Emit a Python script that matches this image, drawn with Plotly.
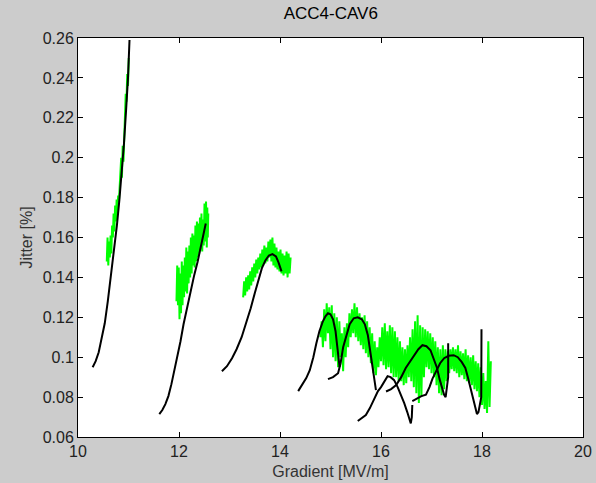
import plotly.graph_objects as go

# ---------------- data ----------------
title_text = "ACC4-CAV6"
x_label = "Gradient [MV/m]"
y_label = "Jitter [%]"
x_ticks = [10, 12, 14, 16, 18, 20]
x_tick_labels = ["10", "12", "14", "16", "18", "20"]
y_ticks = [0.06, 0.08, 0.10, 0.12, 0.14, 0.16, 0.18, 0.20, 0.22, 0.24, 0.26]
y_tick_labels = ["0.06", "0.08", "0.1", "0.12", "0.14", "0.16", "0.18", "0.2", "0.22", "0.24", "0.26"]

# measured jitter (green, noisy) : gradient, lower and upper excursion
g1_x = [10.57, 10.60, 10.63, 10.66, 10.69, 10.72, 10.75, 10.78, 10.81, 10.84, 10.87, 10.90, 10.93, 10.96, 10.99]
g1_lo = [0.148, 0.146, 0.150, 0.152, 0.160, 0.163, 0.168, 0.172, 0.178, 0.189, 0.190, 0.198, 0.222, 0.228, 0.236]
g1_hi = [0.160, 0.158, 0.161, 0.166, 0.172, 0.176, 0.179, 0.181, 0.184, 0.200, 0.206, 0.208, 0.232, 0.242, 0.250]

g2_x = [11.95, 11.98, 12.01, 12.04, 12.07, 12.10, 12.13, 12.16, 12.19, 12.22, 12.25, 12.28, 12.31, 12.34,
        12.37, 12.40, 12.43, 12.46, 12.49, 12.52, 12.55, 12.57]
g2_lo = [0.128, 0.126, 0.119, 0.122, 0.126, 0.130, 0.133, 0.132, 0.137, 0.140, 0.142, 0.146, 0.145, 0.148,
         0.150, 0.152, 0.154, 0.153, 0.156, 0.158, 0.155, 0.160]
g2_hi = [0.146, 0.145, 0.142, 0.148, 0.146, 0.150, 0.155, 0.153, 0.156, 0.160, 0.162, 0.161, 0.166, 0.168,
         0.167, 0.170, 0.172, 0.169, 0.177, 0.178, 0.175, 0.172]

g3_x = [13.27, 13.31, 13.35, 13.39, 13.43, 13.47, 13.51, 13.55, 13.59, 13.63, 13.67, 13.71, 13.75, 13.79,
        13.83, 13.87, 13.91, 13.95, 13.99, 14.03, 14.07, 14.11, 14.15, 14.19]
g3_lo = [0.130, 0.131, 0.133, 0.134, 0.136, 0.138, 0.140, 0.142, 0.144, 0.145, 0.146, 0.147, 0.148, 0.150,
         0.148, 0.146, 0.145, 0.144, 0.143, 0.142, 0.141, 0.142, 0.140, 0.142]
g3_hi = [0.138, 0.140, 0.141, 0.143, 0.145, 0.147, 0.149, 0.150, 0.152, 0.154, 0.156, 0.155, 0.158, 0.159,
         0.160, 0.157, 0.155, 0.153, 0.154, 0.152, 0.151, 0.153, 0.152, 0.150]

g4_x = [14.80, 14.85, 14.90, 14.95, 15.00, 15.05, 15.10, 15.15, 15.20, 15.25, 15.30, 15.35, 15.40, 15.45,
        15.50, 15.55, 15.60, 15.65, 15.70, 15.75, 15.80, 15.85, 15.90, 15.95, 16.00, 16.05, 16.10, 16.15,
        16.20, 16.25, 16.30, 16.35, 16.40, 16.45, 16.50, 16.55, 16.60, 16.65, 16.70, 16.75, 16.80, 16.85,
        16.90, 16.95, 17.00, 17.05, 17.10, 17.15, 17.20, 17.25, 17.30, 17.35, 17.40, 17.45, 17.50, 17.55,
        17.60, 17.65, 17.70, 17.75, 17.80, 17.85, 17.90, 17.95, 18.00, 18.05, 18.10, 18.15]
g4_lo = [0.110, 0.105, 0.108, 0.112, 0.104, 0.100, 0.098, 0.095, 0.100, 0.093, 0.100, 0.105, 0.110, 0.112,
         0.110, 0.108, 0.106, 0.104, 0.102, 0.100, 0.097, 0.092, 0.091, 0.095, 0.098, 0.096, 0.094, 0.095,
         0.092, 0.090, 0.090, 0.088, 0.088, 0.086, 0.087, 0.090, 0.088, 0.085, 0.082, 0.077, 0.080, 0.090,
         0.095, 0.094, 0.092, 0.090, 0.086, 0.082, 0.081, 0.084, 0.088, 0.092, 0.094, 0.093, 0.092, 0.090,
         0.091, 0.089, 0.088, 0.087, 0.086, 0.084, 0.083, 0.080, 0.076, 0.074, 0.072, 0.075]
g4_hi = [0.118, 0.124, 0.127, 0.125, 0.126, 0.122, 0.120, 0.118, 0.112, 0.115, 0.117, 0.122, 0.124, 0.127,
         0.125, 0.122, 0.120, 0.121, 0.118, 0.115, 0.112, 0.108, 0.105, 0.110, 0.115, 0.117, 0.113, 0.116,
         0.115, 0.113, 0.110, 0.108, 0.105, 0.104, 0.106, 0.110, 0.114, 0.118, 0.121, 0.116, 0.115, 0.114,
         0.113, 0.112, 0.110, 0.108, 0.105, 0.104, 0.106, 0.104, 0.103, 0.104, 0.105, 0.104, 0.106, 0.103,
         0.102, 0.104, 0.101, 0.100, 0.101, 0.098, 0.097, 0.095, 0.092, 0.088, 0.108, 0.098]

# model curves (black)
b1_x = [10.29, 10.35, 10.41, 10.47, 10.53, 10.59, 10.65, 10.71, 10.77, 10.82, 10.87, 10.91, 10.95, 10.99, 11.02]
b1_y = [0.095, 0.098, 0.1025, 0.109, 0.117, 0.128, 0.140, 0.153, 0.166, 0.179, 0.193, 0.207, 0.223, 0.240, 0.259]

b2_x = [11.61, 11.67, 11.73, 11.79, 11.85, 11.91, 11.97, 12.03, 12.09, 12.16, 12.23, 12.30, 12.37, 12.45, 12.53]
b2_y = [0.0715, 0.0735, 0.0765, 0.0805, 0.0865, 0.0935, 0.101, 0.108, 0.1165, 0.125, 0.1335, 0.141, 0.148, 0.157, 0.167]

b3_x = [12.85, 12.95, 13.05, 13.14, 13.24, 13.33, 13.42, 13.50, 13.57, 13.64, 13.71, 13.78, 13.85, 13.92, 13.97, 14.03]
b3_y = [0.093, 0.0955, 0.0995, 0.104, 0.110, 0.117, 0.1245, 0.132, 0.139, 0.1445, 0.1485, 0.151, 0.1517, 0.1505, 0.1475, 0.143]

b4_x = [14.36, 14.45, 14.52, 14.59, 14.66, 14.72, 14.78, 14.85, 14.90, 14.95, 15.00, 15.05, 15.10, 15.14, 15.18]
b4_y = [0.083, 0.0865, 0.0895, 0.0935, 0.100, 0.107, 0.113, 0.118, 0.1205, 0.122, 0.1215, 0.119, 0.113, 0.104, 0.095]

b5_x = [14.95, 15.05, 15.15, 15.20, 15.25, 15.31, 15.38, 15.46, 15.54, 15.62, 15.68, 15.74, 15.78, 15.82, 15.86, 15.90]
b5_y = [0.089, 0.090, 0.092, 0.097, 0.105, 0.111, 0.1165, 0.1195, 0.120, 0.119, 0.1165, 0.111, 0.104, 0.095, 0.088, 0.0835]

b6_x = [15.54, 15.62, 15.70, 15.78, 15.87, 15.94, 16.00, 16.07, 16.13, 16.19, 16.26, 16.33, 16.40, 16.46, 16.52,
        16.56, 16.59, 16.61, 16.62]
b6_y = [0.068, 0.0695, 0.071, 0.0745, 0.0795, 0.083, 0.085, 0.088, 0.0905, 0.0900, 0.0885, 0.085, 0.081, 0.077, 0.0725,
        0.069, 0.0668, 0.070, 0.076]

b7_x = [16.10, 16.20, 16.30, 16.40, 16.49, 16.58, 16.66, 16.74, 16.82, 16.90, 16.98, 17.05, 17.11, 17.16, 17.21,
        17.25, 17.28, 17.31, 17.33, 17.33]
b7_y = [0.0828, 0.0840, 0.0860, 0.0900, 0.0946, 0.0980, 0.1013, 0.1040, 0.1060, 0.1055, 0.1035, 0.0990, 0.0946, 0.0890, 0.0845,
        0.0812, 0.0800, 0.0850, 0.0900, 0.1070]

b8_x = [16.62, 16.72, 16.80, 16.89, 16.96, 17.02, 17.10, 17.17, 17.25, 17.34, 17.44, 17.52, 17.60, 17.67, 17.72,
        17.76, 17.80, 17.85, 17.90, 17.93, 17.96, 17.985, 17.99]
b8_y = [0.0780, 0.0795, 0.0805, 0.0812, 0.0850, 0.0893, 0.0935, 0.0970, 0.0995, 0.1007, 0.1010, 0.1000, 0.0975, 0.0946, 0.0900,
        0.0860, 0.0815, 0.0760, 0.0715, 0.0725, 0.0770, 0.0800, 0.1140]

green_sets = [(g1_x, g1_lo, g1_hi), (g2_x, g2_lo, g2_hi), (g3_x, g3_lo, g3_hi), (g4_x, g4_lo, g4_hi)]
black_sets = [(b1_x, b1_y), (b2_x, b2_y), (b3_x, b3_y), (b4_x, b4_y),
              (b5_x, b5_y), (b6_x, b6_y), (b7_x, b7_y), (b8_x, b8_y)]

# ---------------- figure ----------------
fig = go.Figure()

for gx, glo, ghi in green_sets:
    xs, ys = [], []
    n = len(gx)
    for i in range(n):
        nxt = gx[i + 1] if i + 1 < n else gx[i] + (gx[i] - gx[i - 1])
        xs += [gx[i], (gx[i] + nxt) / 2]
        ys += [glo[i], ghi[i]]
    fig.add_trace(go.Scatter(x=xs, y=ys, mode="lines",
                             line=dict(color="#00ff00", width=2),
                             showlegend=False, hoverinfo="skip"))

for bx, by in black_sets:
    fig.add_trace(go.Scatter(x=bx, y=by, mode="lines",
                             line=dict(color="#000000", width=2),
                             showlegend=False, hoverinfo="skip"))

font_family = "Liberation Sans, Arial, sans-serif"

fig.update_layout(
    width=596, height=483,
    margin=dict(l=78, r=13, t=38, b=46),
    paper_bgcolor="#cccccc",
    plot_bgcolor="#ffffff",
    font=dict(family=font_family, size=16, color="#222222"),
    title=dict(text=title_text, x=0.555, xanchor="center", y=0.972, yanchor="middle",
               automargin=False,
               font=dict(family=font_family, size=17, color="#000000")),
    xaxis=dict(range=[10, 20], tickvals=x_ticks, ticktext=x_tick_labels,
               ticks="inside", ticklen=5, tickcolor="#000000",
               showline=True, linecolor="#000000", linewidth=1, mirror="ticks",
               showgrid=False, zeroline=False, automargin=False,
               title=dict(text=x_label, standoff=6, font=dict(size=16, color="#333333")),
               tickfont=dict(size=16, color="#222222")),
    yaxis=dict(range=[0.06, 0.26], tickvals=y_ticks, ticktext=y_tick_labels,
               ticks="inside", ticklen=5, tickcolor="#000000",
               showline=True, linecolor="#000000", linewidth=1, mirror="ticks",
               showgrid=False, zeroline=False, automargin=False,
               title=dict(text=y_label, standoff=6, font=dict(size=16, color="#333333")),
               tickfont=dict(size=16, color="#222222")),
)

fig.write_html("out.html",
               config={"displayModeBar": False, "staticPlot": True},
               post_script="document.body.style.margin='0';document.body.style.background='#cccccc';")
